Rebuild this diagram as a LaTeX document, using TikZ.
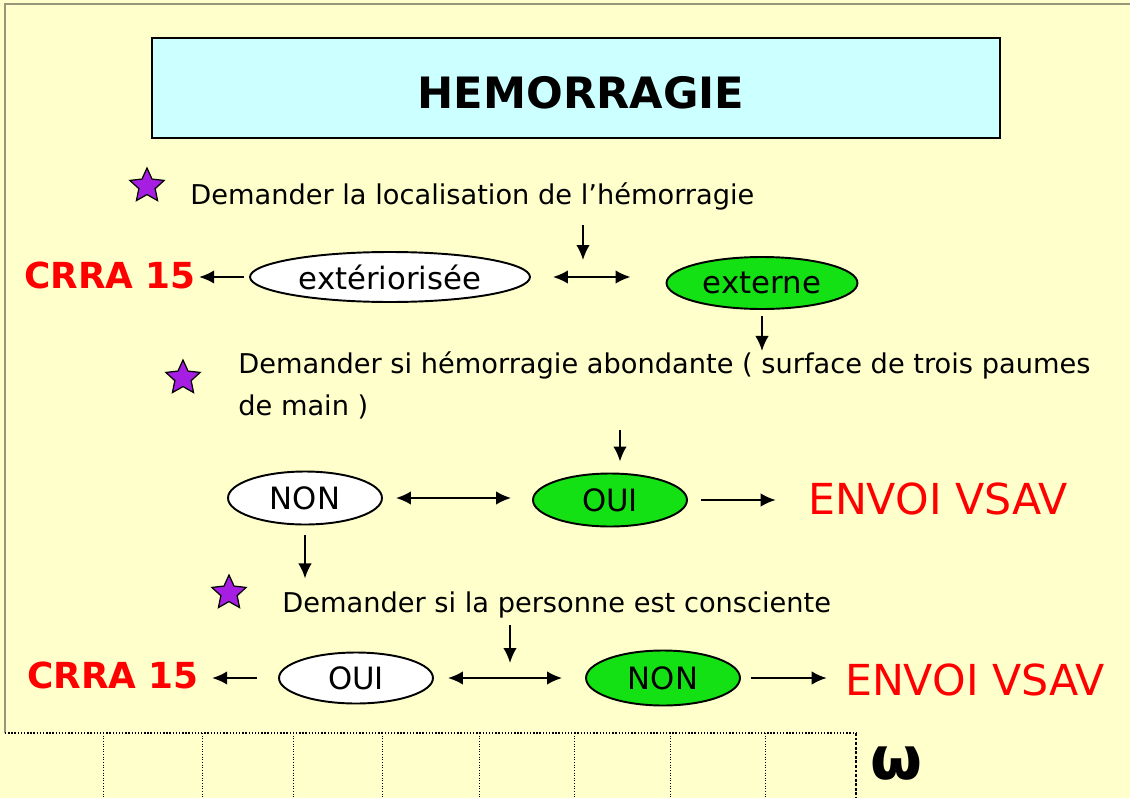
\documentclass[tikz,border=0pt]{standalone}
\usepackage{fontspec}
\setmainfont{DejaVu Sans}
\usetikzlibrary{shapes.geometric}
\usetikzlibrary{arrows.meta}

\definecolor{slidebg}{RGB}{255,255,204}
\definecolor{titlecyan}{RGB}{204,255,255}
\definecolor{okgreen}{RGB}{20,225,20}
\definecolor{starpurple}{RGB}{165,30,225}
\definecolor{framegray}{RGB}{150,150,120}

\tikzset{
    answer/.style={ellipse, draw, line width=1.1pt, inner sep=0pt, font=\fontsize{17.5}{20}\selectfont},
    yes/.style={answer, fill=okgreen},
    no/.style={answer, fill=white},
    question/.style={anchor=base west, inner sep=0pt, font=\fontsize{15.5}{20}\selectfont},
    crra/.style={text=red, inner sep=0pt, font=\bfseries\fontsize{20.4}{24}\selectfont},
    vsav/.style={text=red, inner sep=0pt, font=\fontsize{24.3}{28}\selectfont},
    bullet/.style={star, star points=5, star point ratio=2.1, draw, fill=starpurple, minimum size=0.72cm, inner sep=0pt, line width=0.7pt},
    arr/.style={-{Latex[length=0.3cm,width=0.27cm]}, line width=1.1pt},
    dblarr/.style={{Latex[length=0.3cm,width=0.27cm]}-{Latex[length=0.3cm,width=0.27cm]}, line width=1.1pt}
}

\begin{document}
\begin{tikzpicture}[x=0.02cm, y=-0.02cm]
    % Background
    \fill[slidebg] (0,0) rectangle (1130,798);
    \useasboundingbox (0,0) rectangle (1130,798);
    \draw[framegray, line width=0.8pt] (5,733) -- (5,4) -- (1130,4);

    % Title
    \draw[fill=titlecyan, line width=1.4pt] (152,38) rectangle (1000,138);
    \node[font=\bfseries\fontsize{24.6}{28}\selectfont] (title) at (581,93) {HEMORRAGIE};

    % Questions
    \node[bullet] (s1) at (147,186) {};
    \node[question] (q1) at (190,204) {Demander la localisation de l’hémorragie};
    \node[bullet] (s2) at (183,378) {};
    \node[question] (q2) at (238,373) {Demander si hémorragie abondante ( surface de trois paumes};
    \node[question] (q2b) at (238,415) {de main )};
    \node[bullet] (s3) at (229,593) {};
    \node[question] (q3) at (282,612) {Demander si la personne est consciente};

    % Answers
    \node[no, minimum width=5.6cm, minimum height=1cm] (ext) at (390,277) {extériorisée};
    \node[yes, minimum width=3.82cm, minimum height=1.04cm] (externe) at (762,283) {externe};
    \node[no, minimum width=3.08cm, minimum height=1.06cm] (non1) at (305,498) {NON};
    \node[yes, minimum width=3.08cm, minimum height=1.06cm] (oui1) at (610,500) {OUI};
    \node[no, minimum width=3.08cm, minimum height=1.02cm] (oui2) at (356,678) {OUI};
    \node[yes, minimum width=3.08cm, minimum height=1.1cm] (non2) at (663,678) {NON};

    % Outcomes
    \node[crra] (crra1) at (110,275) {CRRA 15};
    \node[crra] (crra2) at (113,675) {CRRA 15};
    \node[vsav] (vsav1) at (938,499) {ENVOI VSAV};
    \node[vsav] (vsav2) at (975,680) {ENVOI VSAV};

    % Row 1
    \coordinate (d1) at (583,225);
    \draw[arr] (d1) -- ++(0,35);
    \draw[arr, shorten <=0.1cm, shorten >=0.06cm] (ext.west) -- (ext.west -| crra1.east);
    \draw[dblarr, shorten <=0.44cm, shorten >=0.7cm] (ext.east) -- (ext.east -| externe.west);
    \draw[arr, shorten <=0.12cm] (externe.south) -- ++(0,41);

    % Row 2
    \coordinate (d3) at (620,430);
    \draw[arr, shorten >=0.22cm] (d3) -- (d3 |- oui1.north);
    \draw[dblarr, shorten <=0.26cm, shorten >=0.42cm] (non1.east) -- (non1.east -| oui1.west);
    \draw[arr, shorten <=0.26cm, shorten >=0.64cm] (oui1.east) -- (oui1.east -| vsav1.west);
    \draw[arr, shorten <=0.2cm] (non1.south) -- ++(0,53);

    % Row 3
    \coordinate (d4) at (510,625);
    \draw[arr] (d4) -- ++(0,38);
    \draw[arr, shorten <=0.42cm, shorten >=0.26cm] (oui2.west) -- (oui2.west -| crra2.east);
    \draw[dblarr, shorten <=0.28cm, shorten >=0.46cm] (oui2.east) -- (oui2.east -| non2.west);
    \draw[arr, shorten <=0.2cm, shorten >=0.36cm] (non2.east) -- (non2.east -| vsav2.west);

    % Grid
    \draw[densely dotted, line width=0.8pt] (5,733) -- (856,733);
    \foreach \x in {103,202,293,382,479,574,670,765} {
        \draw[densely dotted, line width=0.5pt] (\x,733) -- (\x,798);
    }
    \draw[densely dotted, line width=1.6pt] (856,733) -- (856,798);
    \node[font=\bfseries\fontsize{34}{36}\selectfont] (omega) at (896,764) {ω};
\end{tikzpicture}
\end{document}
